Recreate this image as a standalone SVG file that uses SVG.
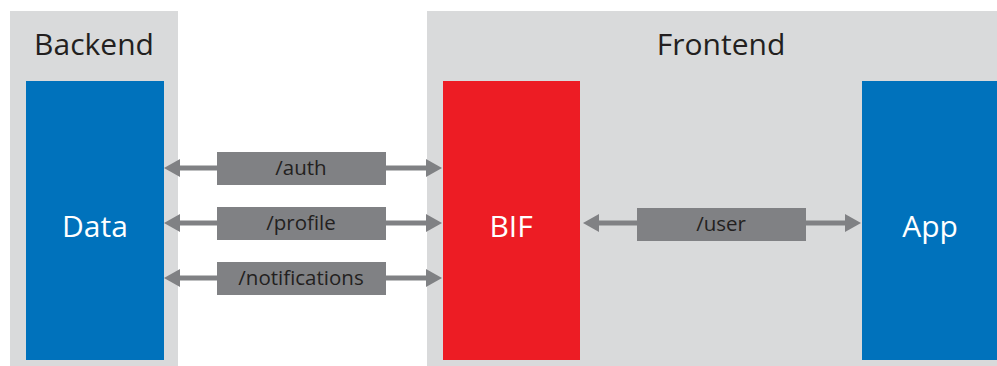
<svg xmlns="http://www.w3.org/2000/svg" width="997" height="366" viewBox="0 0 997 366">
<style>
.panel{fill:#d9dadb}
.title{font-family:"Open Sans","Liberation Sans",sans-serif;font-size:30px;fill:#231f20;text-anchor:middle}
.big{font-family:"Open Sans","Liberation Sans",sans-serif;font-size:30px;fill:#ffffff;text-anchor:middle}
.lbl{fill:#808184}
.lt{font-family:"Open Sans","Liberation Sans",sans-serif;font-size:20.5px;fill:#231f20;text-anchor:middle}
.ln{stroke:#808184;stroke-width:5;fill:none}
.ah{fill:#808184}
</style>
<rect width="997" height="366" fill="#ffffff"/>
<g id="backend">
<rect class="panel" x="10" y="11" width="168" height="355"/>
<text class="title" x="94" y="55">Backend</text>
</g>
<g id="frontend">
<rect class="panel" x="427" y="11" width="570" height="355"/>
<text class="title" x="721" y="55">Frontend</text>
</g>
<g id="data">
<rect x="26" y="81" width="138" height="279" fill="#0072bc"/>
<text class="big" x="95" y="237">Data</text>
</g>
<g id="bif">
<rect x="443" y="81" width="137" height="279" fill="#ed1c24"/>
<text class="big" x="511" y="237">BIF</text>
</g>
<g id="app">
<rect x="862" y="81" width="135" height="279" fill="#0072bc"/>
<text class="big" x="930" y="237">App</text>
</g>
<g id="connectors">
<line class="ln" x1="176" y1="168" x2="430" y2="168"/>
<polygon class="ah" points="164,168 180,159 180,177"/>
<polygon class="ah" points="442,168 426,159 426,177"/>
<line class="ln" x1="176" y1="223" x2="430" y2="223"/>
<polygon class="ah" points="164,223 180,214 180,232"/>
<polygon class="ah" points="442,223 426,214 426,232"/>
<line class="ln" x1="176" y1="278" x2="430" y2="278"/>
<polygon class="ah" points="164,278 180,269 180,287"/>
<polygon class="ah" points="442,278 426,269 426,287"/>
<line class="ln" x1="596" y1="223" x2="848" y2="223"/>
<polygon class="ah" points="583,223 599,214 599,232"/>
<polygon class="ah" points="861,223 845,214 845,232"/>
</g>
<g id="label-auth">
<rect class="lbl" x="217" y="152" width="169" height="33"/>
<text class="lt" x="301" y="175">/auth</text>
</g>
<g id="label-profile">
<rect class="lbl" x="217" y="207" width="169" height="33"/>
<text class="lt" x="301" y="230">/profile</text>
</g>
<g id="label-notifications">
<rect class="lbl" x="217" y="262" width="169" height="33"/>
<text class="lt" x="301" y="285">/notifications</text>
</g>
<g id="label-user">
<rect class="lbl" x="637" y="208" width="169" height="33"/>
<text class="lt" x="721" y="231">/user</text>
</g>
</svg>
